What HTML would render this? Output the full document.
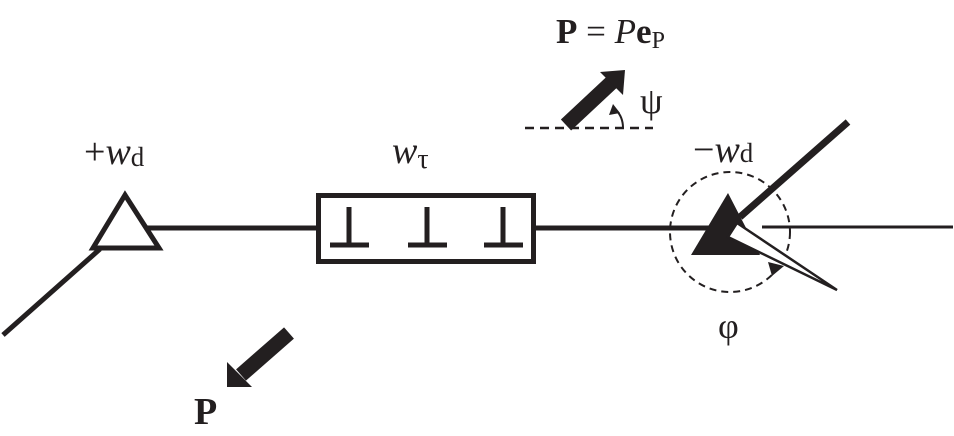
<!DOCTYPE html>
<html><head><style>
html,body{margin:0;padding:0;background:#fff;}
svg{display:block;}
text{font-family:"Liberation Serif",serif;fill:#231f20;}
</style></head><body>
<svg width="954" height="436" viewBox="0 0 954 436" xmlns="http://www.w3.org/2000/svg">
<g stroke="#231f20" fill="none">
<line x1="3" y1="335" x2="100" y2="249" stroke-width="5"/>
<polygon points="125,195 93,248 159,248" stroke-width="5" fill="#fff"/>
<line x1="147" y1="228" x2="318" y2="228" stroke-width="5"/>
<rect x="318.5" y="195.5" width="215" height="66" stroke-width="5"/>
<line x1="536" y1="228" x2="712" y2="228" stroke-width="5"/>
<g stroke-width="5">
<line x1="349" y1="207" x2="349" y2="245"/><line x1="330" y1="245" x2="369" y2="245"/>
<line x1="427" y1="207" x2="427" y2="245"/><line x1="408" y1="245" x2="447" y2="245"/>
<line x1="503" y1="207" x2="503" y2="245"/><line x1="484" y1="245" x2="523" y2="245"/>
</g>
<circle cx="730" cy="232" r="60" stroke-width="2" stroke-dasharray="7,5"/>
<line x1="762" y1="227" x2="953" y2="227" stroke-width="3"/>
<line x1="848" y1="122" x2="740" y2="217" stroke-width="7"/>
<line x1="525" y1="128" x2="653" y2="128" stroke-width="2.5" stroke-dasharray="9,6"/>
<path d="M623,128 Q623,117 616,110" stroke-width="2"/>
</g>
<polygon points="728,193 691,255 760,255" fill="#231f20"/>
<polygon points="737,223 837,290 728,237" fill="#fff" stroke="#231f20" stroke-width="2.5"/>
<polygon points="784,266 772,276 768,262" fill="#231f20"/>
<polygon points="613,104 620,113 609,115" fill="#231f20"/>
<line x1="289" y1="333" x2="241" y2="375" stroke="#231f20" stroke-width="15"/>
<polygon points="227,387 227,362 252,387" fill="#231f20"/>
<line x1="566" y1="125" x2="612" y2="82" stroke="#231f20" stroke-width="15"/>
<polygon points="625,70 600,72 623,95" fill="#231f20"/>
<text x="84" y="164" font-size="38">+<tspan font-style="italic">w</tspan><tspan font-size="27" dy="2">d</tspan></text>
<text x="392" y="163" font-size="38" font-style="italic">w<tspan font-style="normal" font-size="28" dy="5">τ</tspan></text>
<text x="693" y="162" font-size="38">−<tspan font-style="italic">w</tspan><tspan font-size="27" dy="0">d</tspan></text>
<text x="556" y="43" font-size="35"><tspan font-weight="bold">P</tspan> = <tspan font-style="italic">P</tspan><tspan font-weight="bold">e</tspan><tspan font-size="24" dy="5">P</tspan></text>
<text x="640" y="113" font-size="36">ψ</text>
<text x="718" y="338" font-size="36">φ</text>
<text x="194" y="424" font-size="38" font-weight="bold">P</text>
</svg>
</body></html>
